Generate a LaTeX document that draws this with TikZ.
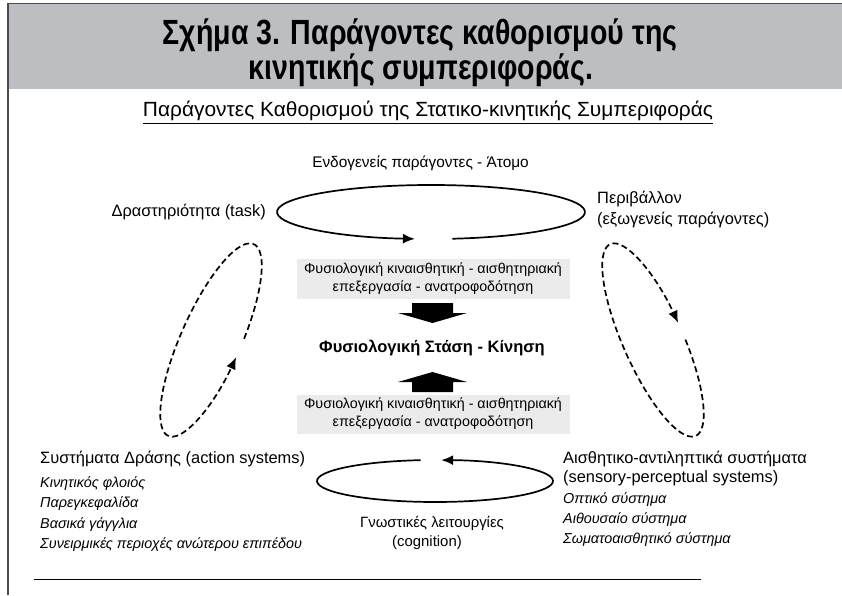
\documentclass[tikz,border=0pt]{standalone}
\usepackage{fontspec}
\setmainfont{Liberation Sans}
\newfontfamily\narrowfont[FakeStretch=0.815]{Liberation Sans}
\newfontfamily\subfont[FakeStretch=1.02]{Liberation Sans}
\usetikzlibrary{arrows.meta}

\definecolor{bandgray}{HTML}{BDBEC2}
\definecolor{boxgray}{HTML}{EBEBEB}
\definecolor{edgegray}{HTML}{4A4A4A}

\begin{document}
\begin{tikzpicture}[x=1pt,y=1pt,
  txt/.style={inner sep=0pt, font=\fontsize{16.4}{19}\selectfont},
  item/.style={inner sep=0pt, anchor=base west, font=\fontsize{14.4}{17}\selectfont\itshape},
  procbox/.style={fill=boxgray, minimum width=273pt, minimum height=39pt, inner sep=0pt,
    align=center, font=\fontsize{14.3}{18}\selectfont},
  loop/.style={line width=1.7pt, -{Latex[length=12pt,width=10pt]}},
  dashloop/.style={loop, dash pattern=on 6pt off 3.5pt}]
\useasboundingbox (0,0) rectangle (842,595);

\fill[bandgray] (7,506) rectangle (842,591);
\draw[edgegray, line width=1.5pt] (7,591.5) -- (842,591.5);
\draw[edgegray, line width=2pt] (7.5,0) -- (7.5,592);

\node[inner sep=0pt, font=\narrowfont\bfseries\fontsize{35}{40}\selectfont] (title1) at (420,550) [anchor=base] {Σχήμα 3. Παράγοντες καθορισμού της};
\node[inner sep=0pt, font=\narrowfont\bfseries\fontsize{35}{40}\selectfont] (title2) at (421,515) [anchor=base] {κινητικής συμπεριφοράς.};

\node[inner sep=0pt, anchor=base, font=\subfont\fontsize{20.5}{23}\selectfont] (sub) at (428,478) {Παράγοντες Καθορισμού της Στατικο-κινητικής Συμπεριφοράς};
\draw[line width=0.8pt] ([yshift=-6.5pt]sub.base west) -- ([yshift=-6.5pt]sub.base east);

\node[txt, anchor=base, font=\fontsize{15.4}{18}\selectfont] (endo) at (420.5,427) {Ενδογενείς παράγοντες - Άτομο};
\node[txt, anchor=base east] (task) at (266,378) {Δραστηριότητα (task)};
\node[txt, anchor=base west] (env1) at (597,391) {Περιβάλλον};
\node[txt, anchor=base west] (env2) at (597,370) {(εξωγενείς παράγοντες)};

\draw[loop] (431,383) ++(278:154 and 27) arc[start angle=278, end angle=624, x radius=154, y radius=27];

\node[procbox] (box1) at (433,316) {Φυσιολογική κιναισθητική - αισθητηριακή\\επεξεργασία - ανατροφοδότηση};
\fill (412,292) -- (453,292) -- (453,282) -- (467,282) -- (432.5,272) -- (398,282) -- (412,282) -- cycle;

\node[inner sep=0pt, anchor=base, font=\fontsize{16.5}{19}\selectfont\bfseries] (core) at (432,243) {Φυσιολογική Στάση - Κίνηση};

\fill (412,203) -- (453,203) -- (453,213) -- (467,213) -- (432.5,223) -- (398,213) -- (412,213) -- cycle;
\node[procbox] (box2) at (433,181) {Φυσιολογική κιναισθητική - αισθητηριακή\\επεξεργασία - ανατροφοδότηση};

\draw[loop] (435,114) ++(97:118 and 21) arc[start angle=97, end angle=447, x radius=118, y radius=21];

\begin{scope}[shift={(211,255)}, rotate=66]
\draw[dashloop] (-82:105 and 30) arc[start angle=-82, end angle=267, x radius=105, y radius=30];
\end{scope}
\begin{scope}[shift={(653,255)}, rotate=-66]
\draw[dashloop] (83:105 and 30) arc[start angle=83, end angle=-267, x radius=105, y radius=30];
\end{scope}

\node[txt, anchor=base west] (act) at (40,132) {Συστήματα Δράσης (action systems)};
\node[item] (act1) at (40,108) {Κινητικός φλοιός};
\node[item] (act2) at (40,88) {Παρεγκεφαλίδα};
\node[item] (act3) at (40,67) {Βασικά γάγγλια};
\node[item] (act4) at (40,47) {Συνειρμικές περιοχές ανώτερου επιπέδου};

\node[txt, anchor=base, font=\fontsize{14.9}{17}\selectfont] (cog1) at (432,68) {Γνωστικές λειτουργίες};
\node[txt, anchor=base, font=\fontsize{14.9}{17}\selectfont] (cog2) at (427,49) {(cognition)};

\node[txt, anchor=base west] (sens1) at (563,132) {Αισθητικο-αντιληπτικά συστήματα};
\node[txt, anchor=base west] (sens2) at (563,113) {(sensory-perceptual systems)};
\node[item] (sens3) at (563,92) {Οπτικό σύστημα};
\node[item] (sens4) at (563,72) {Αιθουσαίο σύστημα};
\node[item] (sens5) at (563,52) {Σωματοαισθητικό σύστημα};

\draw[line width=0.8pt] (34,16) -- (701,16);
\end{tikzpicture}
\end{document}
